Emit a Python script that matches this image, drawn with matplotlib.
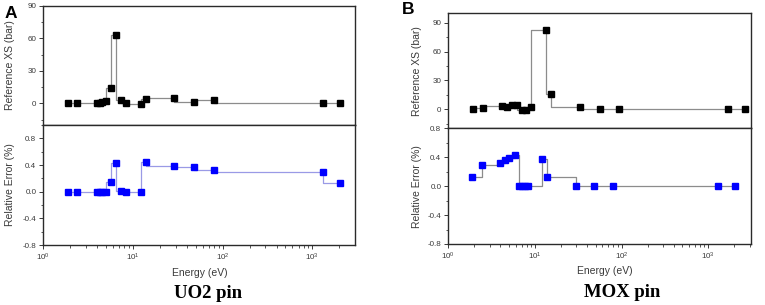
import matplotlib
matplotlib.use("Agg")
import matplotlib.pyplot as plt
from matplotlib.ticker import MultipleLocator, LogLocator, NullFormatter

plt.rcParams['font.family'] = ['Liberation Sans', 'DejaVu Sans']

# ---- data ----
energy_a = [1.87, 2.38, 3.94, 4.29, 4.48, 5.0, 5.68, 6.41, 7.35, 8.36, 12.2, 13.9, 28.9, 47.9, 79.4, 1303, 2032]
xs_a = [0, 0, 0, 0.5, 1.0, 2.2, 14.4, 63.5, 2.8, 0, -0.5, 4.0, 4.6, 1.6, 2.8, 0.6, 0]
err_a = [0, 0, 0, -0.01, -0.01, -0.01, 0.146, 0.427, 0.01, 0, 0, 0.438, 0.382, 0.367, 0.327, 0.29, 0.125]

energy_b_xs = [1.93, 2.49, 4.13, 4.75, 5.43, 6.15, 7.03, 7.94, 9.06, 13.3, 15.2, 33, 55.7, 93.8, 1670, 2665]
xs_b = [0, 1.0, 3.1, 1.8, 4.6, 4.6, -1.0, -0.6, 2.1, 83, 16.1, 1.8, 0.6, 0, 0, 0]
energy_b_err = [1.89, 2.43, 3.95, 4.51, 5.06, 5.83, 6.59, 7.08, 7.67, 8.37, 12.1, 13.9, 29.5, 48.3, 79.4, 1300, 2027]
err_b = [0.12, 0.29, 0.322, 0.355, 0.383, 0.425, 0.004, 0.004, 0.004, 0.004, 0.369, 0.129, 0, 0, 0, 0.005, 0.005]

panel_letters = ["A", "B"]
panel_titles = ["UO2 pin", "MOX pin"]
ylabel_top = "Reference XS (bar)"
ylabel_bot = "Relative Error (%)"
xlabel = "Energy (eV)"

W, H = 765, 305
fig = plt.figure(figsize=(W / 100, H / 100), dpi=100)

def ax_rect(left, right, top, bottom):
    return [left / W, 1 - bottom / H, (right - left) / W, (bottom - top) / H]

FS_TICK = 5.8
FS_LAB = 7.5
GRAY = '#8c8c8c'
TXT = '#3a3a3a'

def style(ax, show_x):
    for s in ax.spines.values():
        s.set_linewidth(1.0)
        s.set_color('#2a2a2a')
    ax.set_xscale('log')
    ax.xaxis.set_major_locator(LogLocator(base=10, numticks=10))
    ax.xaxis.set_minor_locator(LogLocator(base=10, subs=range(2, 10), numticks=10))
    ax.xaxis.set_minor_formatter(NullFormatter())
    ax.tick_params(axis='both', which='major', direction='out', length=3, width=0.7,
                   labelsize=FS_TICK, colors=TXT, pad=2)
    ax.tick_params(axis='both', which='minor', direction='out', length=1.8, width=0.6, colors=TXT)
    ax.tick_params(axis='x', which='both', bottom=show_x, labelbottom=show_x)

configs = [
    dict(left=43.3, right=355, top=6, mid=125, bottom=245, xmax=2985,
         ex=energy_a, ys=xs_a, ee=energy_a, es=err_a, ylim_top=(-20, 90), ylim_bot=(-0.8, 1.0),
         err_color='#9a9ae6', err_step='steps-pre', letter_xy=(11, 13), ylab_x=10,
         title_xy=(208, 293), xlab_xy=(200, 272.5)),
    dict(left=448.3, right=751, top=13.3, mid=128.3, bottom=244, xmax=3100,
         ex=energy_b_xs, ys=xs_b, ee=energy_b_err, es=err_b, ylim_top=(-20, 100), ylim_bot=(-0.8, 0.8),
         err_color=GRAY, err_step='steps-post', letter_xy=(408, 10), ylab_x=417,
         title_xy=(622, 292.5), xlab_xy=(605, 271.5)),
]

for i, c in enumerate(configs):
    ax1 = fig.add_axes(ax_rect(c['left'], c['right'], c['top'], c['mid']))
    ax2 = fig.add_axes(ax_rect(c['left'], c['right'], c['mid'], c['bottom']))
    ax1.plot(c['ex'], c['ys'], drawstyle='steps-pre', color=GRAY, lw=0.9)
    ax1.plot(c['ex'], c['ys'], ls='none', marker='s', ms=4.0, color='black')
    ax2.plot(c['ee'], c['es'], drawstyle=c['err_step'], color=c['err_color'], lw=0.9)
    ax2.plot(c['ee'], c['es'], ls='none', marker='s', ms=4.0, color='#0000ff')
    for ax in (ax1, ax2):
        ax.set_xlim(1, c['xmax'])
    style(ax1, False)
    style(ax2, True)
    ax1.set_ylim(*c['ylim_top'])
    ax1.yaxis.set_major_locator(MultipleLocator(30))
    ax1.yaxis.set_minor_locator(MultipleLocator(15))
    ax2.set_ylim(*c['ylim_bot'])
    ax2.yaxis.set_major_locator(MultipleLocator(0.4))
    ax2.yaxis.set_minor_locator(MultipleLocator(0.2))
    ax2.yaxis.set_major_formatter(matplotlib.ticker.FuncFormatter(lambda v, p: f"{v:.1f}".replace("-0.0", "0.0")))
    # labels
    fig.text(c['ylab_x'] / W, 1 - (c['top'] + c['mid']) / 2 / H, ylabel_top, rotation=90,
             ha='center', va='center', fontsize=FS_LAB, color=TXT)
    fig.text(c['ylab_x'] / W, 1 - (c['mid'] + c['bottom']) / 2 / H, ylabel_bot, rotation=90,
             ha='center', va='center', fontsize=FS_LAB, color=TXT)
    fig.text(c['xlab_xy'][0] / W, 1 - c['xlab_xy'][1] / H, xlabel, ha='center', va='center',
             fontsize=FS_LAB, color=TXT)
    fig.text(c['letter_xy'][0] / W, 1 - c['letter_xy'][1] / H, panel_letters[i], ha='center', va='center',
             fontsize=12.5, fontweight='bold')
    fig.text(c['title_xy'][0] / W, 1 - c['title_xy'][1] / H, panel_titles[i], ha='center', va='center',
             fontsize=13.5, fontweight='bold', family='Liberation Serif')

fig.savefig('out.png', dpi=100)
